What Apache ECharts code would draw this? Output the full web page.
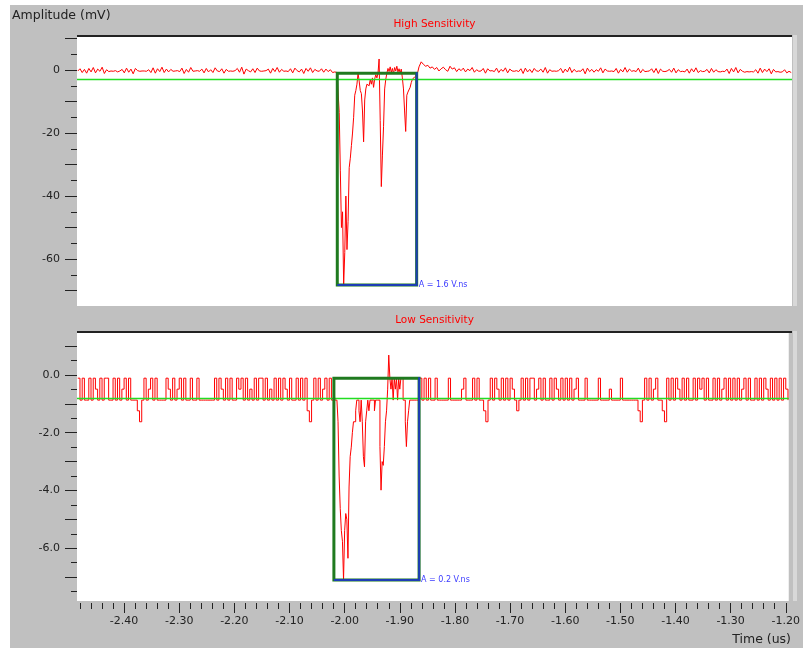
<!DOCTYPE html>
<html><head><meta charset="utf-8">
<script src="https://cdn.jsdelivr.net/npm/echarts@6/dist/echarts.min.js"></script>
<style>
html,body{margin:0;padding:0;background:#fff;}
#bg{position:absolute;left:10px;top:5px;width:793px;height:643px;background:#c0c0c0;}
#chart{position:absolute;left:0;top:0;width:803px;height:648px;}
</style></head><body>
<div id="bg"></div><div id="chart"></div>
<script>
// ---- axes ----
const X_MIN = -2.4854, X_MAX = -1.1946;
const xMajorTicks = [-2.40,-2.30,-2.20,-2.10,-2.00,-1.90,-1.80,-1.70,-1.60,-1.50,-1.40,-1.30,-1.20];
const xMinorStep = 0.02;
const HIGH_Y_MIN = -74.9, HIGH_Y_MAX = 10.8;
const highYLabels = [0,-20,-40,-60];
const highYMajor = [10,0,-10,-20,-30,-40,-50,-60,-70];
const highYMinorStep = 5;
const LOW_Y_MIN = -7.83, LOW_Y_MAX = 1.49;
const lowYLabels = [0,-2,-4,-6];
const lowYMajor = [1,0,-1,-2,-3,-4,-5,-6,-7];
const lowYMinorStep = 0.5;

// ---- High sensitivity trace (mV) ----
const highLeftStart = -2.484, highNoiseStep = 0.004;
const highNoiseLeft = [-0.3,0.4,-0.8,0.2,-1.0,0.5,-0.6,0.8,-0.9,0.3,-0.4,0.9,-1.1,0.1,-0.5,-0.3,-0.4,-0.2,-0.6,-0.3,
0.2,-0.9,0.6,-0.7,0.3,-1.2,0.5,-0.2,-0.4,-0.3,-0.3,-0.4,0.1,-0.8,0.7,-1.0,0.4,-0.5,0.9,-0.8,
0.3,-0.6,0.2,-0.4,-0.3,-0.2,-0.5,0.6,-1.1,0.2,-0.7,0.8,-0.4,-0.3,-0.2,-0.4,0.3,-0.9,0.5,-0.6,
0.1,-0.8,0.7,-0.3,-0.5,0.4,-1.0,0.2,-0.4,-0.3,-0.4,-0.2,0.5,-0.7,0.9,-1.3,0.3,-0.2,-0.6,0.4,
-0.8,0.6,-0.3,-0.4,-0.3,-0.2,0.3,-1.0,0.5,-0.5,0.8,-0.7,0.2,-0.4,-0.3,-0.5,0.4,-0.9,0.6,-0.2,
-0.6,0.3,-1.1,0.5,-0.4,0.7,-0.8,0.2,-0.3,-0.4,0.4,-0.7,0.3,-0.5,0.1,-0.8,-0.6];
const highPulseStart = -2.016, highPulseStep = 0.002;
const highPulse = [-0.8,-1.2,-13.5,-32,-50,-45,-68.3,-58,-40,-57,
-48,-31,-28,-24,-20,-15,-8,-6.5,-4.5,-1.0,
-3.5,-6.5,-7.5,-13,-22.8,-9.5,-6,-4.5,-4,-5,
-3,-4.5,-2.5,-5.5,-2.8,-1.5,-2.5,-1.0,3.5,-16,
-37,-27,-18,-6,-3,-1,0.5,-0.5,1,-0.8,
0.5,-1.2,0.8,-0.3,1.2,-0.6,0.4,-1,0.3,-2.5,
-6,-13,-19.5,-8,-7,-6.5,-5.5,-4,-3,-2.5,
-2.2,-1.8,-1.5,-0.5,1.0];
const highRightStart = -1.864;
const highNoiseRight = [2.6,1.8,1.2,1.5,0.6,1.0,0.2,0.8,-0.3,0.4,0.9,0.1,-0.4,1.2,0.3,0.7,-0.5,0.4,-0.2,0.6,
-0.6,0.3,-0.2,0.8,-0.7,0.1,-0.4,-0.3,0.5,-1.0,0.4,-0.3,-0.2,-0.5,0.6,-0.8,0.2,-0.4,0.7,-0.9,
0.3,-0.3,-0.4,-0.2,-0.5,0.4,-1.1,0.6,-0.6,0.2,-0.8,0.5,-0.3,-0.4,0.3,-0.7,0.8,-1.0,0.1,-0.4,
-0.3,-0.4,-0.2,0.5,-0.9,0.3,-0.6,0.9,-0.8,0.2,-0.5,-0.3,-0.4,0.4,-1.2,0.6,-0.5,0.2,-0.7,0.1,
-0.4,0.7,-0.9,0.3,-0.3,-0.4,-0.3,-0.5,0.5,-1.0,0.2,-0.6,0.8,-0.7,0.3,-0.4,-0.2,-0.5,0.6,-0.9,
0.2,-0.5,-0.4,-0.3,0.4,-0.8,0.5,-1.1,0.3,-0.4,-0.5,-0.3,0.2,-0.7,0.6,-0.9,0.1,-0.5,-0.4,-0.6,
0.3,-1.0,0.4,-0.6,0.7,-0.8,-0.2,-0.5,-0.4,0.2,-0.9,0.5,-0.7,0.1,-0.5,-0.6,-0.4,-0.5,0.3,-1.1,
0.5,-0.6,0.8,-0.9,0.2,-0.4,-0.7,-0.5,-0.6,-0.5,-0.6,0.1,-1.0,0.6,-0.8,0.3,-0.5,0.4,-1.2,0.2,
-0.6,-0.5,-0.7,-0.6,0.1,-0.9,-0.4,-0.8];
const highThreshold = -3.0;
const highBox = [-2.0155, -1.05, -1.8722, -68.25];
const highBoxLabel = 'A = 1.6 V.ns';

// ---- Low sensitivity trace (mV) ----
const lowLeftStart = -2.484, lowNoiseStep = 0.004;
const lowNoiseLeft = [-0.11,-0.87,-0.11,-0.87,-0.87,-0.11,-0.87,-0.11,-0.49,-0.87,-0.11,-0.87,-0.11,-0.11,-0.87,-0.87,-0.11,-0.87,-0.11,-0.87,-0.49,-0.11,-0.87,-0.11,-0.87,
-0.87,-0.87,-1.24,-1.62,-0.87,
-0.11,-0.87,-0.49,-0.11,-0.87,-0.11,-0.87,
-0.87,-0.87,-0.87,
-0.11,-0.49,-0.87,-0.11,-0.87,-0.49,-0.11,-0.87,-0.11,-0.87,
-0.87,-0.11,-0.87,-0.87,-0.11,-0.87,
-0.87,-0.87,-0.87,-0.87,-0.87,-0.87,
-0.11,-0.87,-0.11,-0.49,-0.87,-0.11,-0.87,-0.11,-0.87,-0.87,-0.11,-0.49,-0.11,-0.87,-0.11,-0.87,-0.49,-0.87,-0.11,-0.87,-0.11,-0.11,-0.87,-0.11,-0.87,-0.49,-0.87,-0.11,-0.87,-0.11,-0.87,-0.11,-0.49,-0.87,-0.11,-0.87,-0.87,-0.11,-0.87,-0.11,-0.87,-0.11,
-1.24,-1.62,-0.87,
-0.11,-0.87,-0.11,-0.87,-0.49,-0.11,-0.87,-0.11,-0.87,-0.11];
const lowPulseStart = -2.018, lowPulseStep = 0.002;
const lowPulse = [-0.87,-0.87,-0.87,-1.62,-3.5,-4.63,-5.39,-5.76,-7.1,-5.39,
-4.8,-5.01,-6.35,-3.88,-2.83,-2.5,-2.0,-1.62,-1.62,-1.24,
-0.87,-0.87,-1.24,-1.62,-0.87,-1.62,-2.83,-3.18,-1.62,-1.24,
-0.87,-1.24,-0.87,-0.87,-0.87,-0.87,-1.24,-0.87,-0.87,-0.87,
-0.87,-2.48,-3.99,-3.0,-3.13,-2.48,-1.62,-1.24,-0.49,0.69,
-0.11,-0.49,-0.11,-0.87,-0.11,-0.49,-0.11,-0.87,-0.11,-0.49,
-0.11,-0.11,-0.87,-0.87,-1.62,-2.48,-1.62,-1.24,-0.87,-0.87,
-0.87,-0.87,-0.87,-0.87,-0.87,-0.87,-0.11];
const lowRightStart = -1.864;
const lowNoiseRight = [-0.11,-0.87,-0.11,-0.87,-0.11,-0.87,
-0.87,-0.11,-0.87,-0.87,-0.87,-0.87,-0.87,-0.11,-0.87,-0.87,-0.87,-0.87,-0.87,-0.49,-0.11,-0.87,-0.87,-0.87,-0.11,-0.87,-0.11,-0.87,-0.87,
-1.24,-1.62,-0.87,
-0.11,-0.87,-0.11,-0.49,-0.87,-0.11,-0.87,-0.11,-0.87,-0.11,-0.49,-0.87,
-1.24,
-0.87,-0.11,-0.87,-0.11,-0.87,-0.11,-0.11,-0.87,-0.49,-0.11,-0.87,-0.11,-0.87,-0.87,-0.11,-0.87,-0.11,-0.49,-0.87,-0.11,-0.87,-0.11,-0.87,-0.11,-0.87,-0.49,-0.11,-0.87,
-0.87,-0.87,-0.11,-0.87,-0.87,-0.87,-0.87,-0.87,-0.11,-0.87,-0.87,-0.87,-0.87,-0.49,-0.87,-0.87,-0.87,-0.87,-0.11,-0.87,-0.87,-0.87,-0.87,-0.87,-0.87,-0.87,
-1.24,-1.62,-0.87,
-0.11,-0.87,-0.11,-0.87,-0.49,-0.11,-0.87,-0.87,
-1.24,-1.62,
-0.11,-0.87,-0.11,-0.87,-0.11,-0.49,-0.87,-0.11,-0.87,-0.11,-0.87,-0.87,-0.11,-0.87,-0.11,-0.49,-0.11,-0.87,-0.11,-0.87,-0.87,-0.11,-0.87,-0.11,-0.87,-0.49,-0.11,-0.87,-0.11,-0.87,-0.11,-0.87,-0.11,-0.87,-0.49,-0.11,-0.87,-0.11,-0.87,-0.87,-0.11,-0.87,-0.11,-0.87,-0.11,-0.49,-0.87,-0.11,-0.87,-0.11,-0.87,-0.11,-0.87,-0.11,-0.49,-0.87];
const lowThreshold = -0.81;
const lowBox = [-2.0195, -0.11, -1.865, -7.1];
const lowBoxLabel = 'A = 0.2 V.ns';

// ---- build ----
function sampled(t0, dt, vals){ return vals.map((v,i)=>[+(t0+i*dt).toFixed(4), v]); }
const highData = [].concat(sampled(highLeftStart, highNoiseStep, highNoiseLeft), sampled(highPulseStart, highPulseStep, highPulse), sampled(highRightStart, highNoiseStep, highNoiseRight));
const lowData = [].concat(sampled(lowLeftStart, lowNoiseStep, lowNoiseLeft), sampled(lowPulseStart, lowPulseStep, lowPulse), sampled(lowRightStart, lowNoiseStep, lowNoiseRight));

function stepsBetween(a, b, step){ const out=[]; const n=Math.round((b-a)/step); for(let i=0;i<=n;i++) out.push(+(a+i*step).toFixed(4)); return out; }
const xMinorTicks = stepsBetween(-2.48, -1.20, xMinorStep);
const highYMinor = stepsBetween(-70, 10, highYMinorStep);
const lowYMinor = stepsBetween(-7.5, 1.5, lowYMinorStep);

const FONT = 'DejaVu Sans';
const TXT = '#222';

function boxSeries(xIdx, yIdx, box, label){
  return {
    type:'custom', xAxisIndex:xIdx, yAxisIndex:yIdx, silent:true, clip:false, z:5,
    data:[box],
    renderItem:function(params, api){
      const p1 = api.coord([api.value(0), api.value(1)]);
      const p2 = api.coord([api.value(2), api.value(3)]);
      return {type:'group', children:[
        {type:'rect', shape:{x:p1[0], y:p1[1], width:p2[0]-p1[0], height:p2[1]-p1[1]},
          style:{fill:null, stroke:'#1f7a1f', lineWidth:3}},
        {type:'polyline', shape:{points:[[p2[0],p1[1]-1],[p2[0],p2[1]],[p1[0],p2[1]]]},
          style:{fill:null, stroke:'#1d3db5', lineWidth:2}},
        {type:'text', style:{text:label, x:p2[0]+2, y:p2[1], fill:'#3b3bff', fontSize:8, fontFamily:FONT, align:'left', verticalAlign:'middle'}}
      ]};
    }
  };
}

function yAxisDef(grid, min, max, ticks, len, labels, fmt){
  return {gridIndex:grid, type:'value', position:'left', min:min, max:max,
    axisLine:{show:false, onZero:false}, splitLine:{show:false},
    axisTick:{show:true, customValues:ticks, length:len, lineStyle:{color:TXT}},
    axisLabel: labels ? {show:true, customValues:labels, formatter:fmt, fontSize:11, fontFamily:FONT, color:TXT, margin:17} : {show:false}};
}

function thresholdLine(v){
  return {symbol:'none', silent:true, label:{show:false}, emphasis:{disabled:true},
    lineStyle:{color:'#22dd22', width:1.3, type:'solid', opacity:1}, data:[{yAxis:v}]};
}

const chart = echarts.init(document.getElementById('chart'), null, {renderer:'canvas'});
chart.setOption({
  animation:false,
  backgroundColor:'transparent',
  grid:[
    {left:77, top:36, width:715, height:270, show:true, backgroundColor:'#fff', borderWidth:0},
    {left:77, top:332, width:715, height:269, show:true, backgroundColor:'#fff', borderWidth:0}
  ],
  xAxis:[
    {gridIndex:0, type:'value', min:X_MIN, max:X_MAX, show:false, axisLine:{onZero:false}},
    {gridIndex:1, type:'value', position:'bottom', offset:2, min:X_MIN, max:X_MAX, axisLine:{show:false, onZero:false}, splitLine:{show:false},
      axisTick:{show:true, customValues:xMajorTicks, length:10, lineStyle:{color:TXT}},
      axisLabel:{show:true, customValues:xMajorTicks, formatter:v=>v.toFixed(2), fontSize:11, fontFamily:FONT, color:TXT, margin:13}},
    {gridIndex:1, type:'value', position:'bottom', offset:2, min:X_MIN, max:X_MAX, axisLine:{show:false, onZero:false}, splitLine:{show:false},
      axisTick:{show:true, customValues:xMinorTicks, length:6, lineStyle:{color:TXT}},
      axisLabel:{show:false}}
  ],
  yAxis:[
    yAxisDef(0, HIGH_Y_MIN, HIGH_Y_MAX, highYMajor, 12, highYLabels, v=>String(v)),
    yAxisDef(0, HIGH_Y_MIN, HIGH_Y_MAX, highYMinor, 6, null, null),
    yAxisDef(1, LOW_Y_MIN, LOW_Y_MAX, lowYMajor, 12, lowYLabels, v=>v.toFixed(1)),
    yAxisDef(1, LOW_Y_MIN, LOW_Y_MAX, lowYMinor, 6, null, null)
  ],
  series:[
    {type:'line', xAxisIndex:0, yAxisIndex:0, data:highData, showSymbol:false, symbol:'none',
      lineStyle:{color:'#ff0000', width:1}, itemStyle:{color:'#ff0000'}, z:3,
      markLine:thresholdLine(highThreshold)},
    boxSeries(0, 0, highBox, highBoxLabel),
    {type:'line', xAxisIndex:1, yAxisIndex:2, data:lowData, step:'end', showSymbol:false, symbol:'none',
      lineStyle:{color:'#ff0000', width:1}, itemStyle:{color:'#ff0000'}, z:3,
      markLine:thresholdLine(lowThreshold)},
    boxSeries(1, 2, lowBox, lowBoxLabel)
  ],
  graphic:[
    {type:'line', shape:{x1:77, y1:36, x2:792, y2:36}, style:{stroke:'#222', lineWidth:2}, z:10},
    {type:'line', shape:{x1:77, y1:332, x2:792, y2:332}, style:{stroke:'#222', lineWidth:2}, z:10},
    {type:'rect', shape:{x:793, y:35, width:4, height:271}, style:{fill:'#d8d8d8'}, z:10},
    {type:'rect', shape:{x:793, y:331, width:4, height:270}, style:{fill:'#d8d8d8'}, z:10},
    {type:'text', style:{text:'Amplitude (mV)', x:12, y:16, fill:TXT, fontSize:12.5, fontFamily:FONT, align:'left', verticalAlign:'middle'}, z:10},
    {type:'text', style:{text:'Time (us)', x:791, y:640, fill:TXT, fontSize:12.5, fontFamily:FONT, align:'right', verticalAlign:'middle'}, z:10},
    {type:'text', style:{text:'High Sensitivity', x:434.5, y:24, fill:'#ff0000', fontSize:10.5, fontFamily:FONT, align:'center', verticalAlign:'middle'}, z:10},
    {type:'text', style:{text:'Low Sensitivity', x:434.5, y:320, fill:'#ff0000', fontSize:10.5, fontFamily:FONT, align:'center', verticalAlign:'middle'}, z:10}
  ]
});
</script>
</body></html>
